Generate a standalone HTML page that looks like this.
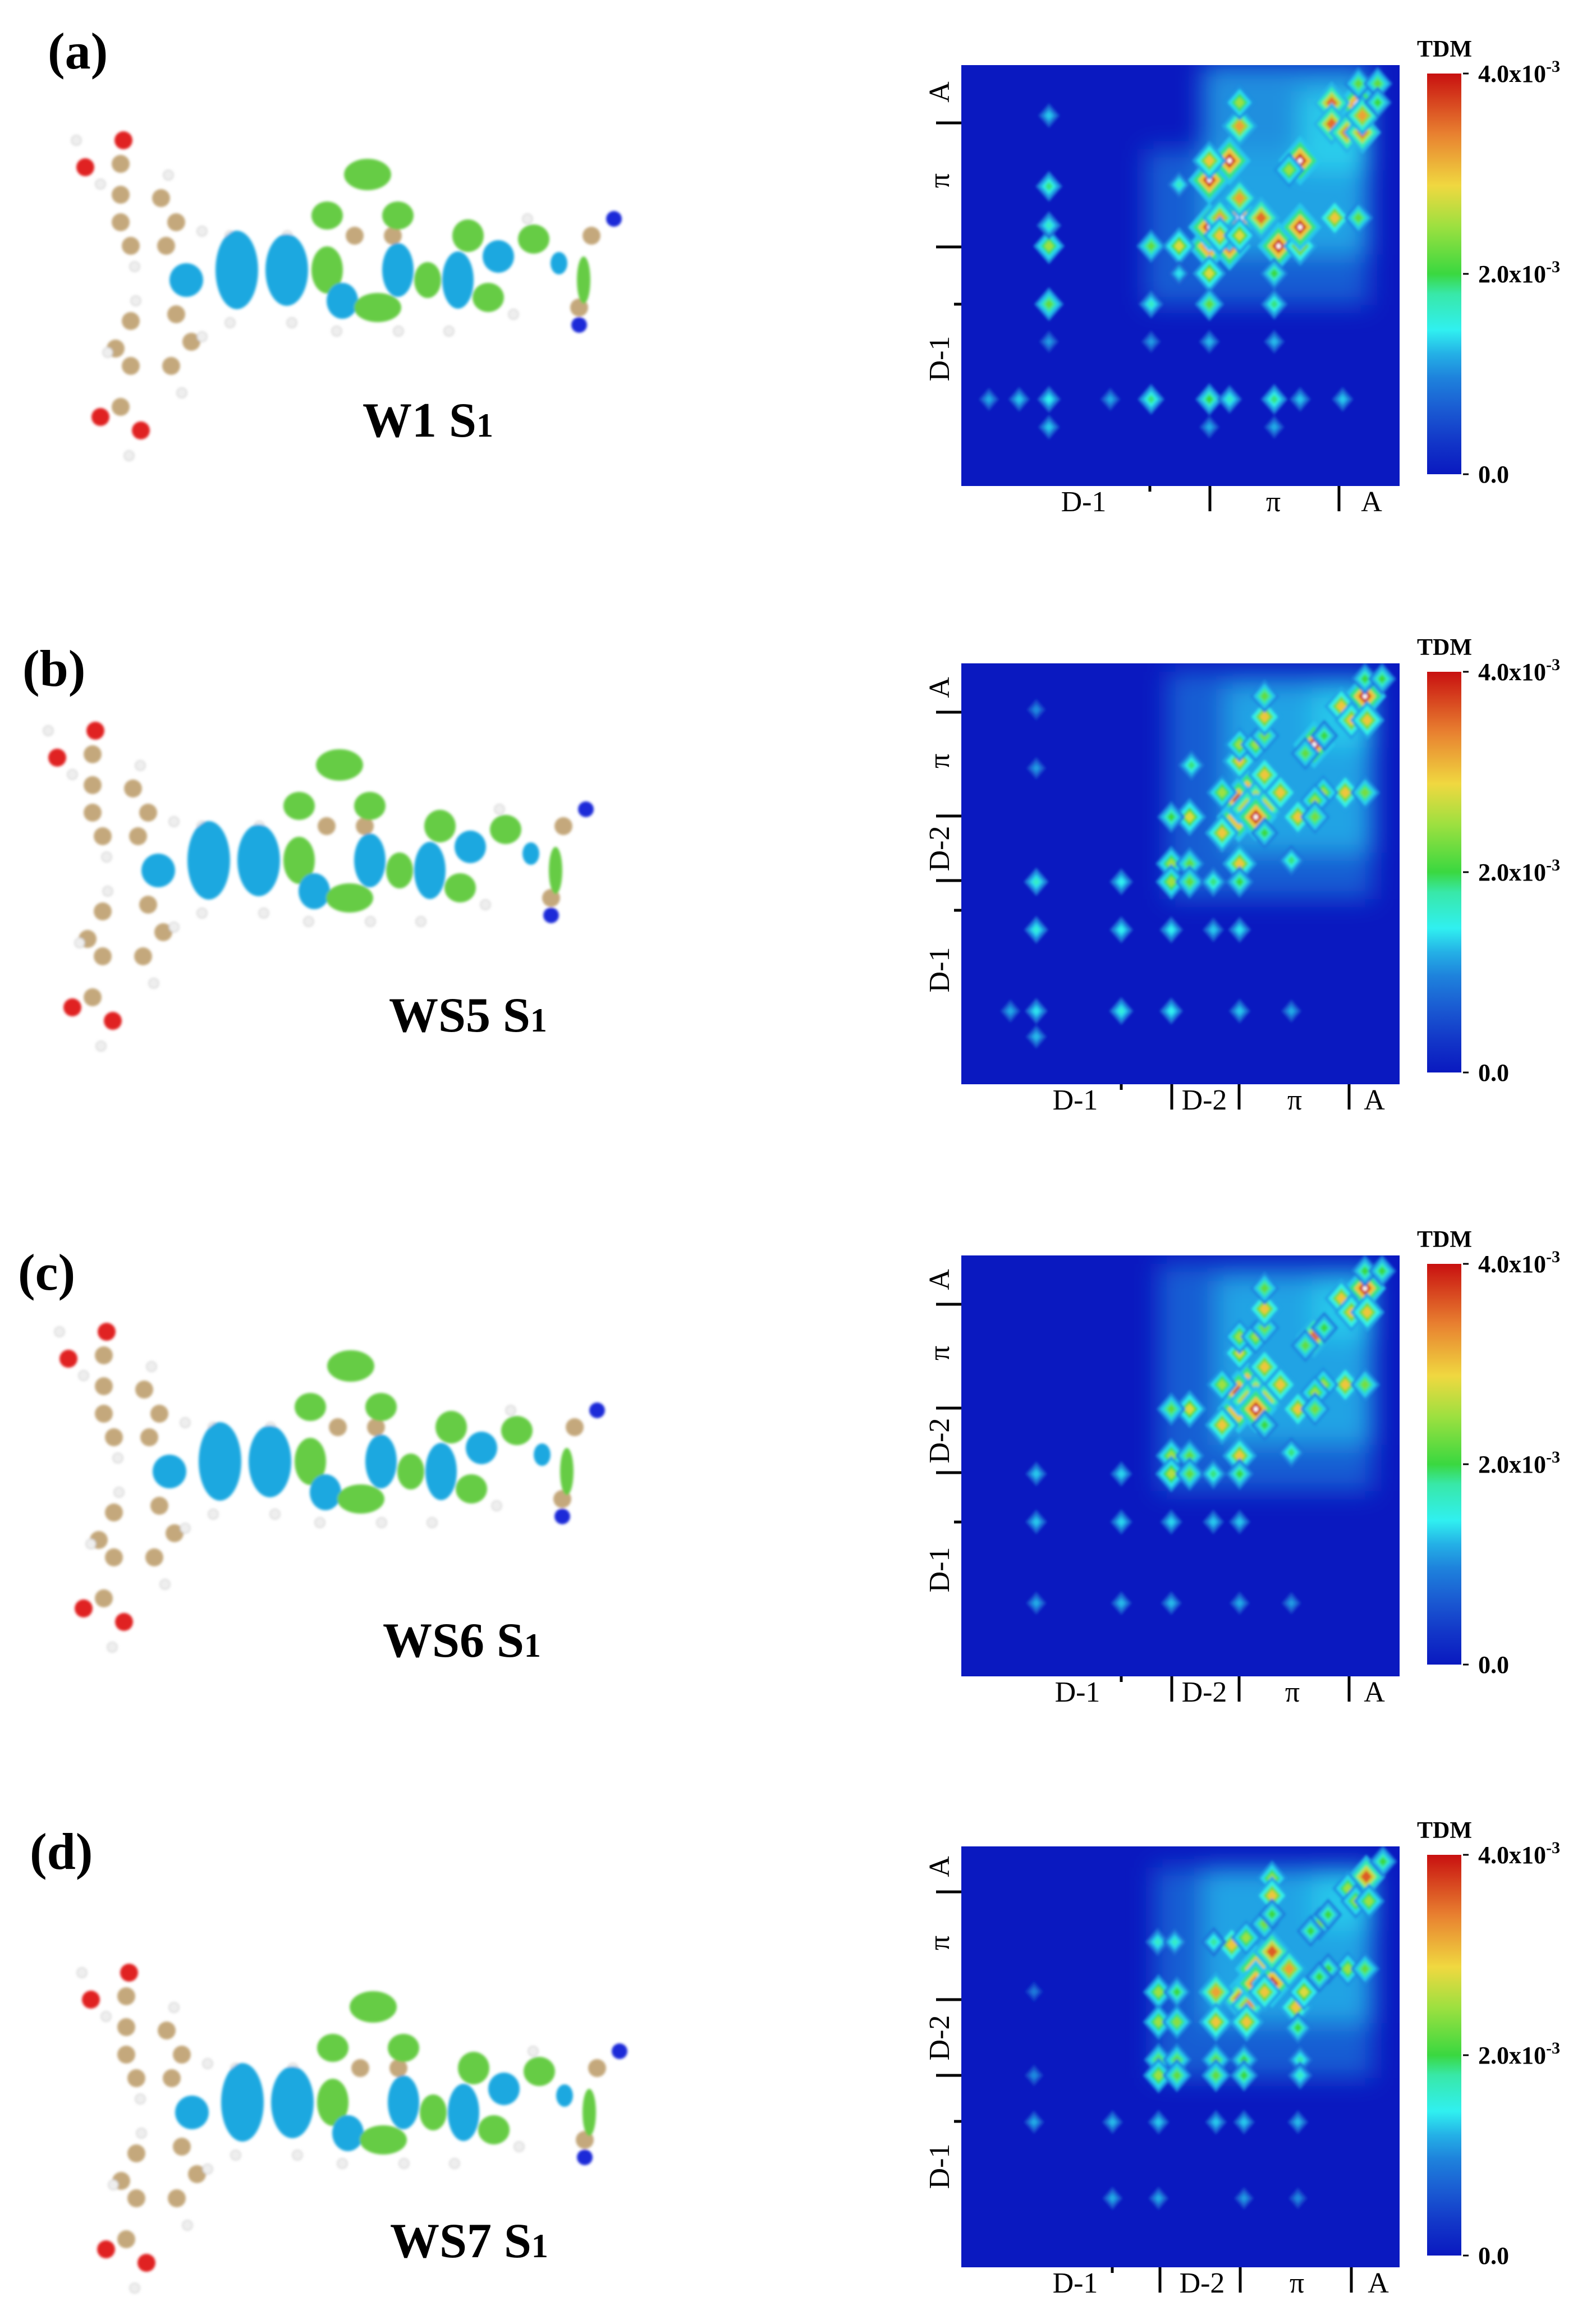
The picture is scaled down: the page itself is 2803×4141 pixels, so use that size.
<!DOCTYPE html>
<html><head><meta charset="utf-8"><style>
html,body{margin:0;padding:0;background:#fff;}
svg{display:block;}
text{font-family:"Liberation Serif",serif;}
</style></head><body>
<svg id="fig" width="2803" height="4141" viewBox="0 0 2803 4141" xmlns="http://www.w3.org/2000/svg">
<defs>
<filter id="blur" x="-20%" y="-20%" width="140%" height="140%"><feGaussianBlur stdDeviation="2.5"/></filter>
<filter id="soft" x="-20%" y="-20%" width="140%" height="140%"><feGaussianBlur stdDeviation="22"/></filter>
<filter id="mblur"><feGaussianBlur stdDeviation="2.5"/></filter>
<linearGradient id="jet" x1="0" y1="1" x2="0" y2="0">
<stop offset="0" stop-color="#0a19c0"/><stop offset="0.08" stop-color="#1236c8"/><stop offset="0.16" stop-color="#1a5ad2"/>
<stop offset="0.24" stop-color="#1e82dc"/><stop offset="0.3" stop-color="#24b0e6"/><stop offset="0.36" stop-color="#30f0f0"/>
<stop offset="0.45" stop-color="#38e8a8"/><stop offset="0.5" stop-color="#3ad840"/><stop offset="0.62" stop-color="#9ee040"/>
<stop offset="0.72" stop-color="#f0d840"/><stop offset="0.85" stop-color="#e88030"/><stop offset="1" stop-color="#c81010"/>
</linearGradient>
</defs>
</svg>
<script>
// ---- heatmap data: spot positions (fraction of map), TDM values (x1e-3) ----
const aSpotX=[.566,.612,.566,.612,.635,.59,.59,.635,.566,.612,.566,.635,.635,.635,.684,.724,.773,.773,.773,.748,.906,.845,.845,.88,.915,.915,.906,.95,.95,.852,.906,.497,.433,.566,.566,.433,.714,.714,.497,.497,.2,.2,.2,.2,.2,.063,.132,.2,.34,.433,.566,.612,.714,.773,.87,.2,.566,.714,.2,.433,.566,.714];
const aSpotY=[.43,.43,.385,.385,.363,.363,.405,.405,.273,.227,.227,.316,.145,.089,.363,.43,.43,.385,.227,.249,.093,.09,.14,.16,.16,.12,.044,.044,.089,.363,.363,.43,.43,.495,.568,.568,.495,.568,.495,.284,.43,.568,.288,.381,.12,.794,.794,.794,.794,.794,.794,.794,.794,.794,.794,.86,.86,.86,.657,.657,.657,.657];
const aSpotV=[4.6,4.3,4.3,4.3,4.6,3.2,3,2.8,4.3,4.3,3,3.2,3.2,2.5,3.5,4.3,3,4.3,4.4,2.5,4.6,3.5,3.5,3.5,3.5,3.2,2.2,2.2,2,3,2.2,2.8,2.2,2.8,2.2,1.5,2,1.8,1.2,1.5,2.5,2.2,1.8,1.5,1,.8,1,1.3,.8,1.8,2,1.5,1.8,1,1,1,.8,.8,.7,.7,.9,.9];
const aCloudX0=[.42,.55,.77],aCloudX1=[.93,.93,.93],aCloudY0=[.2,0,.06],aCloudY1=[.57,.45,.25],aCloudV=[.5,.95,1.2];

const bSpotX=[.633,.692,.652,.633,.672,.652,.692,.672,.595,.595,.635,.692,.635,.672,.692,.692,.692,.805,.785,.828,.921,.867,.89,.926,.921,.96,.876,.921,.826,.807,.768,.807,.728,.692,.635,.521,.479,.479,.521,.479,.521,.575,.635,.753,.171,.171,.365,.479,.575,.635,.365,.112,.171,.365,.479,.635,.753,.171,.171,.171,.525];
const bSpotY=[.365,.307,.307,.326,.326,.346,.346,.365,.403,.307,.232,.265,.193,.193,.172,.127,.078,.193,.214,.172,.078,.102,.135,.135,.037,.037,.307,.307,.307,.326,.365,.365,.307,.403,.476,.365,.365,.476,.476,.519,.519,.519,.519,.468,.519,.633,.633,.633,.633,.633,.519,.826,.826,.826,.826,.826,.826,.887,.249,.11,.242];
const bSpotV=[4.6,4.6,4.2,4.2,3.5,3.5,3.5,4.2,3,2.5,3,3,2.5,2.5,2.3,3,2.2,4.2,2.2,2,4.3,3,3,3,2,2,3,2.3,2.5,2.5,3,2.3,3,2,3,2.8,2,2.5,2.2,2.5,2.2,1.8,2,1.8,1.5,1.4,1.3,1.3,1,1.2,1.3,.8,1.2,1.4,1.3,1,.8,.9,.7,.6,1.8];
const bCloudX0=[.47,.6,.8],bCloudX1=[.94,.94,.94],bCloudY0=[.02,.05,.06],bCloudY1=[.56,.45,.2],bCloudV=[.5,.95,1.1];

const cSpotX=[.633,.692,.652,.633,.672,.652,.692,.672,.595,.595,.635,.692,.635,.672,.692,.692,.692,.805,.785,.828,.921,.867,.89,.926,.921,.96,.876,.921,.826,.807,.768,.807,.728,.692,.635,.521,.479,.479,.521,.479,.521,.575,.635,.753,.171,.171,.365,.479,.575,.635,.365,.171,.365,.479,.635,.753];
const cSpotY=[.365,.325,.307,.326,.326,.346,.346,.365,.403,.307,.232,.265,.193,.193,.172,.127,.078,.193,.214,.172,.078,.102,.135,.135,.037,.037,.307,.307,.307,.326,.365,.365,.307,.403,.476,.365,.365,.476,.476,.519,.519,.519,.519,.468,.519,.633,.633,.633,.633,.633,.519,.826,.826,.826,.826,.826];
const cSpotV=[4.4,4.6,4,4.2,3.5,3.5,3.5,4.2,3,2.5,2.8,3,2.5,2.5,2.3,3,2.2,3.5,2.2,2,4.2,3,3,3,2,2,3,2.3,2.5,2.5,3,2.3,3,2,3,2.8,2.2,2.5,2.2,2.6,2.2,1.8,2,1.8,1,1,1.1,1.1,1,1,1.1,.8,.9,.9,.8,.7];
const cCloudX0=[.45,.58,.8],cCloudX1=[.94,.94,.94],cCloudY0=[.02,.05,.06],cCloudY1=[.56,.45,.2],cCloudV=[.5,.95,1.1];

const dSpotX=[.651,.709,.635,.655,.672,.672,.709,.692,.709,.748,.617,.65,.581,.581,.651,.763,.782,.709,.709,.692,.709,.817,.837,.797,.924,.882,.9,.93,.962,.882,.921,.837,.817,.45,.492,.45,.492,.45,.492,.581,.645,.45,.492,.581,.645,.768,.773,.773,.448,.487,.576,.345,.45,.581,.645,.768,.166,.345,.45,.645,.768,.166,.166];
const dSpotY=[.346,.291,.362,.378,.291,.326,.326,.346,.25,.291,.234,.217,.346,.417,.417,.382,.346,.076,.117,.184,.161,.184,.162,.201,.072,.1,.13,.13,.036,.291,.291,.291,.31,.346,.346,.417,.417,.507,.507,.507,.507,.544,.544,.544,.544,.431,.507,.544,.227,.227,.227,.655,.655,.655,.655,.655,.655,.836,.836,.836,.836,.544,.345];
const dSpotV=[4.6,4.6,3.6,3.3,4.2,4.2,4.2,3,3.6,3.2,3,2.5,3.2,3,3,3,2.8,2.5,3,2.3,2,2.3,2,2,3.6,2.5,2.5,2.5,2,2.5,2.2,2,2,2.5,2,2.5,2.4,2.2,2.2,2.2,2,2.5,2.2,2.2,2,2,1.6,1.5,1.5,1.5,1.7,.9,1,1,1,.9,.8,.8,.8,.7,.6,.6,.5];
const dCloudX0=[.44,.55,.8],dCloudX1=[.94,.94,.94],dCloudY0=[.05,.05,.06],dCloudY1=[.55,.42,.2],dCloudV=[.5,.95,1.1];

const tickLabels=["4.0x10","2.0x10","0.0"];
const tickValues=[4,2,0];
const vMax=4;

const NS="http://www.w3.org/2000/svg";
const svg=document.getElementById('fig');
function el(tag,attrs,parent){const e=document.createElementNS(NS,tag);for(const k in attrs)e.setAttribute(k,attrs[k]);(parent||svg).appendChild(e);return e;}
const stops=[[0,[10,25,192]],[.3,[26,90,210]],[.6,[30,140,224]],[1.0,[40,200,236]],[1.3,[48,240,240]],[1.7,[56,232,160]],[2.0,[58,216,64]],[2.5,[158,224,64]],[2.9,[240,216,64]],[3.4,[232,128,48]],[4.0,[200,16,16]]];
function jet(v){if(v>=4.25)return '#ffffff';v=Math.max(0,Math.min(4,v));for(let i=1;i<stops.length;i++){if(v<=stops[i][0]){const a=stops[i-1],b=stops[i],t=(v-a[0])/(b[0]-a[0]);const c=a[1].map((x,j)=>Math.round(x+(b[1][j]-x)*t));return `rgb(${c[0]},${c[1]},${c[2]})`;}}return '#c81010';}

const HX=1713,HW=781,HH=750,CBX=2543,CBW=61;
const panels=[
 {key:'a',top:116,sx:aSpotX,sy:aSpotY,sv:aSpotV,cx0:aCloudX0,cx1:aCloudX1,cy0:aCloudY0,cy1:aCloudY1,cv:aCloudV,
  lt:[[103,1],[324,1],[426,0]],ll:[['A',48],['π',206],['D-1',523]],bt:[[336,0],[443,1],[673,1]],bl:[['D-1',218],['π',556],['A',731]]},
 {key:'b',top:1182,sx:bSpotX,sy:bSpotY,sv:bSpotV,cx0:bCloudX0,cx1:bCloudX1,cy0:bCloudY0,cy1:bCloudY1,cv:bCloudV,
  lt:[[87,1],[272,1],[387,1],[440,0]],ll:[['A',43],['π',174],['D-2',330],['D-1',546]],bt:[[285,0],[375,1],[495,1],[691,1]],bl:[['D-1',203],['D-2',433],['π',594],['A',736]]},
 {key:'c',top:2237,sx:cSpotX,sy:cSpotY,sv:cSpotV,cx0:cCloudX0,cx1:cCloudX1,cy0:cCloudY0,cy1:cCloudY1,cv:cCloudV,
  lt:[[87,1],[272,1],[387,1],[475,0]],ll:[['A',43],['π',174],['D-2',330],['D-1',560]],bt:[[285,0],[375,1],[495,1],[691,1]],bl:[['D-1',207],['D-2',433],['π',590],['A',736]]},
 {key:'d',top:3290,sx:dSpotX,sy:dSpotY,sv:dSpotV,cx0:dCloudX0,cx1:dCloudX1,cy0:dCloudY0,cy1:dCloudY1,cv:dCloudV,
  lt:[[81,1],[273,1],[408,1],[490,0]],ll:[['A',36],['π',172],['D-2',341],['D-1',570]],bt:[[269,0],[354,1],[497,1],[695,1]],bl:[['D-1',203],['D-2',429],['π',598],['A',743]]}
];
function diamond(cx,cy,r,fill,g){const p=`${cx},${cy-r*1.15} ${cx+r},${cy} ${cx},${cy+r*1.15} ${cx-r},${cy}`;const d=el('polygon',{points:p,fill:fill},g);

return d;}

panels.forEach(P=>{
  const top=P.top;
  const xs=f=>HX+f*HW, ys=f=>top+f*HH;
  const clipId='clip'+P.key;
  const cp=el('clipPath',{id:clipId},svg.querySelector('defs'));el('rect',{x:HX,y:top,width:HW,height:HH},cp);
  const g=el('g',{'clip-path':`url(#${clipId})`});
  
  
  const bg=el('rect',{x:HX,y:top,width:HW,height:HH,fill:'#0a19c0'},g);
  
  
  const cg=el('g',{filter:'url(#soft)'},g);
  P.cx0.forEach((x0,i)=>{const r=el('rect',{x:xs(x0),y:ys(P.cy0[i]),width:xs(P.cx1[i])-xs(x0),height:ys(P.cy1[i])-ys(P.cy0[i]),fill:jet(P.cv[i]),opacity:.7},cg);
    
    });
  const sg=el('g',{filter:'url(#blur)'},g);
  P.sx.forEach((fx,i)=>{const v=P.sv[i],cx=xs(fx),cy=ys(P.sy[i]);const S=9+3.8*Math.min(v,4.6);
    [[.25,1.5],[.45,1.15],[.75,.78],[1,.45]].forEach(([k,m])=>diamond(cx,cy,S*m,jet(Math.min(v,4)*k),sg));
    if(v>=4.2)diamond(cx,cy,S*(v>=4.5?.38:.2),'#ffffff',sg);});
  P.lt.forEach(([y,big])=>{const t=el('line',{x1:big?1668:1700,x2:HX,y1:top+y,y2:top+y,stroke:'#000','stroke-width':5});
    
    });
  P.ll.forEach(([s,y])=>{const t=el('text',{x:0,y:0,'font-size':52,'text-anchor':'middle',transform:`translate(1691,${top+y}) rotate(-90)`});t.textContent=s;
    
    });
  P.bt.forEach(([x,big])=>{const t=el('line',{x1:HX+x,x2:HX+x,y1:top+HH,y2:top+HH+(big?45:10),stroke:'#000','stroke-width':5});
    
    });
  P.bl.forEach(([s,x])=>{const t=el('text',{x:HX+x,y:top+HH+45,'font-size':52,'text-anchor':'middle'});t.textContent=s;
    
    });
  const c0=top+15,c1=top+729;
  const cb=el('rect',{x:CBX,y:c0,width:CBW,height:c1-c0,fill:'url(#jet)'});
  
  
  const tdm=el('text',{x:CBX-18,y:top-15,'font-size':42,'font-weight':'bold'});tdm.textContent='TDM';
  
  
  tickValues.forEach((v,i)=>{const y=c1-(v/vMax)*(c1-c0);
    const tk=el('line',{x1:CBX+CBW+3,x2:CBX+CBW+13,y1:y,y2:y,stroke:'#000','stroke-width':3});
    
    
    const t=el('text',{x:CBX+CBW+30,y:y+15,'font-size':44,'font-weight':'bold'});t.textContent=tickLabels[i];
    if(v!==0){const sp=el('tspan',{dy:-18,'font-size':30},t);sp.textContent='-3';}
    
    });
});

// ---- molecule illustrations ----
const lobes=[[332,499,30,30,'b'],[422,481,38,70,'b'],[511,481,38,64,'b'],[583,481,28,42,'g'],[610,536,28,32,'b'],[673,548,42,26,'g'],[709,481,28,48,'b'],[655,311,42,28,'g'],[583,384,28,25,'g'],[709,384,28,25,'g'],[762,499,24,32,'g'],[816,499,28,51,'b'],[834,420,28,29,'g'],[888,457,28,29,'b'],[870,530,28,26,'g'],[951,426,28,26,'g'],[996,469,15,20,'b'],[1040,499,12,42,'g']];
const atoms=[[215,347],[287,353],[314,396],[296,438],[233,438],[215,396],[233,572],[314,560],[341,609],[305,652],[233,652],[206,621],[215,292],[215,725],[632,420],[700,420],[1054,420],[1032,548]];
const reds=[[220,250],[152,298],[179,743],[251,767]];
const hyd=[[136,250],[179,328],[300,312],[360,412],[240,475],[242,536],[360,600],[192,628],[324,700],[230,812],[410,420],[512,420],[410,575],[520,575],[600,590],[710,590],[800,590],[915,560],[940,390]];
const mols=[{name:'W1 S',dx:0,dy:0,lx:646,ly:778,px:85,py:122,lab:'(a)'},
 {name:'WS5 S',dx:-50,dy:1052,lx:693,ly:1838,px:40,py:1222,lab:'(b)'},
 {name:'WS6 S',dx:-30,dy:2123,lx:682,ly:2952,px:32,py:2298,lab:'(c)'},
 {name:'WS7 S',dx:10,dy:3265,lx:695,ly:4022,px:53,py:3330,lab:'(d)'}];
mols.forEach((M,mi)=>{
  const g=el('g',{transform:`translate(${M.dx},${M.dy})`,filter:'url(#mblur)'});
  
  
  atoms.forEach(a=>el('circle',{cx:a[0],cy:a[1],r:16,fill:'#c4a87c'},g));
  reds.forEach(a=>el('circle',{cx:a[0],cy:a[1],r:16,fill:'#e02020'},g));
  hyd.forEach(a=>el('circle',{cx:a[0],cy:a[1],r:9,fill:'#eeeeee',stroke:'#bbb','stroke-width':1},g));
  lobes.forEach(l=>el('ellipse',{cx:l[0],cy:l[1],rx:l[2],ry:l[3],fill:l[4]=='b'?'#1aa8e0':'#66cc44'},g));
  el('circle',{cx:1094,cy:390,r:14,fill:'#1a2ad8'},g);el('circle',{cx:1032,cy:579,r:14,fill:'#1a2ad8'},g);
  const t=el('text',{x:M.lx,y:M.ly,'font-size':88,'font-weight':'bold'});t.textContent=M.name;
  const s=el('tspan',{'font-size':60},t);s.textContent='1';
  
  
  const p=el('text',{x:M.px,y:M.py,'font-size':92,'font-weight':'bold'});p.textContent=M.lab;
  
  
});
</script>
</body></html>
